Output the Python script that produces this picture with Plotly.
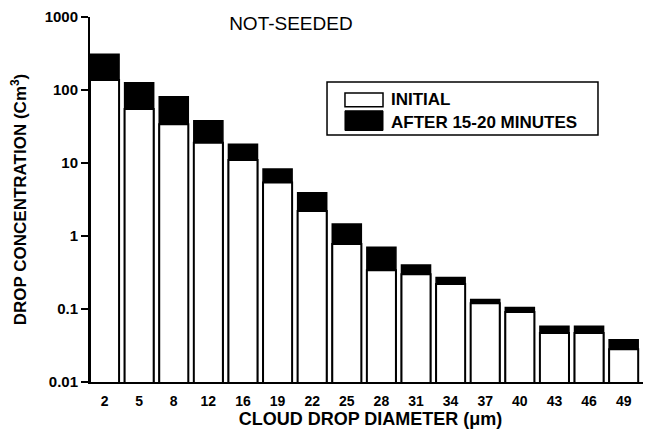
import plotly.graph_objects as go

# ---- data ----
diameters = ["2", "5", "8", "12", "16", "19", "22", "25", "28", "31", "34", "37", "40", "43", "46", "49"]
initial = [137, 55, 34, 19, 11, 5.4, 2.2, 0.78, 0.34, 0.30, 0.22, 0.12, 0.091, 0.047, 0.047, 0.028]
after_15_20 = [310, 126, 81, 38, 18, 8.3, 3.9, 1.46, 0.70, 0.40, 0.27, 0.135, 0.105, 0.058, 0.058, 0.038]
series_names = ["INITIAL", "AFTER 15-20 MINUTES"]
y_tickvals = [0.01, 0.1, 1, 10, 100, 1000]
y_ticktext = ["0.01", "0.1", "1", "10", "100", "1000"]

FONT = "Liberation Sans, Arial, sans-serif"

fig = go.Figure()
fig.add_trace(go.Bar(
    x=diameters, y=after_15_20, name=series_names[1],
    marker=dict(color="black", line=dict(color="black", width=1.5)),
    width=0.84, opacity=1, showlegend=False,
))
fig.add_trace(go.Bar(
    x=diameters, y=initial, name=series_names[0],
    marker=dict(color="white", line=dict(color="black", width=2)),
    width=0.84, opacity=1, showlegend=False,
))

# custom legend box (styled like the reference)
fig.add_shape(type="rect", xref="paper", yref="paper",
              x0=0.4225, x1=0.9055, y0=0.677, y1=0.822,
              line=dict(color="black", width=1.5), fillcolor="white")
fig.add_shape(type="rect", xref="paper", yref="paper",
              x0=0.4545, x1=0.5223, y0=0.754, y1=0.792,
              line=dict(color="black", width=1.5), fillcolor="white")
fig.add_shape(type="rect", xref="paper", yref="paper",
              x0=0.4545, x1=0.5223, y0=0.689, y1=0.743,
              line=dict(color="black", width=1), fillcolor="black")
fig.add_annotation(xref="paper", yref="paper", x=0.533, y=0.775,
                   text=series_names[0], showarrow=False, xanchor="left", yanchor="middle",
                   font=dict(family=FONT, size=17, color="black", weight="bold"))
fig.add_annotation(xref="paper", yref="paper", x=0.533, y=0.712,
                   text=series_names[1], showarrow=False, xanchor="left", yanchor="middle",
                   font=dict(family=FONT, size=17, color="black", weight="bold"))

# the page body adds an 8px margin, so the figure is 8px smaller than the window
fig.update_layout(
    width=643, height=431,
    margin=dict(l=82, r=0, t=9, b=57, autoexpand=False),
    paper_bgcolor="white", plot_bgcolor="white",
    barmode="overlay",
    title=dict(text="NOT-SEEDED", x=0.44, xanchor="center", y=0.964, yanchor="middle",
               font=dict(family=FONT, size=19, color="black")),
    font=dict(family=FONT, color="black"),
    showlegend=False,
)
fig.update_xaxes(
    type="category", range=[-0.42, 15.79],
    showline=True, linecolor="black", linewidth=2,
    ticks="", showgrid=False, zeroline=False,
    tickfont=dict(family=FONT, size=14, color="black", weight="bold"),
    ticklabelstandoff=5,
    title=dict(text="CLOUD DROP DIAMETER (μm)", standoff=4,
               font=dict(family=FONT, size=18, color="black", weight="bold")),
)
fig.update_yaxes(
    type="log", range=[-2, 3],
    tickvals=y_tickvals, ticktext=y_ticktext,
    showline=True, linecolor="black", linewidth=2,
    ticks="outside", ticklen=7, tickwidth=2, tickcolor="black",
    showgrid=False, zeroline=False,
    tickfont=dict(family=FONT, size=15, color="black", weight="bold"),
    title=dict(text="DROP CONCENTRATION (Cm<sup>3</sup>)", standoff=14,
               font=dict(family=FONT, size=17, color="black", weight="bold")),
)

fig.write_html("out.html")
